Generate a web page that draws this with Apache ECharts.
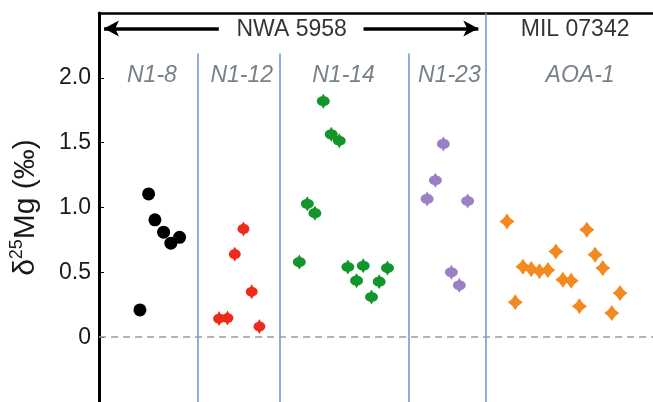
<!DOCTYPE html>
<html><head><meta charset="utf-8">
<script src="https://cdn.jsdelivr.net/npm/echarts@6/dist/echarts.min.js"></script>
<style>html,body{margin:0;padding:0;background:#fff}#c{width:653px;height:402px}</style>
</head><body><div id="c"></div>
<script>
// ---- data (x: position along the horizontal, y: δ25Mg ‰) ----
var n18 = [[49.7,1.105],[56,0.905],[64.7,0.81],[72,0.725],[80.7,0.77],[41,0.21]];
var n112 = [[144.7,0.835],[136,0.64],[153,0.35],[120.3,0.143],[128.7,0.148],[160.7,0.082]];
var n114 = [[224.7,1.82],[232.7,1.564],[240.7,1.515],[208.7,1.028],[216.3,0.956],[200.7,0.579],
            [249.3,0.541],[264.7,0.551],[289,0.533],[258,0.436],[280.7,0.428],[273,0.31]];
var n123 = [[345,1.49],[337,1.21],[328.7,1.066],[369.3,1.05],[353,0.50],[361,0.40]];
var aoa1 = [[408.7,0.892],[417,0.269],[424.7,0.543],[433,0.525],[441.3,0.508],[449.7,0.518],
            [457.7,0.661],[464.7,0.443],[473,0.435],[481.3,0.238],[488.7,0.828],[497,0.635],
            [504.7,0.533],[513.7,0.187],[522,0.341]];
var groupNames = ['N1-8','N1-12','N1-14','N1-23','AOA-1'];
var groupCenters = [53,143,245,351,482];
var groupLabelY = 2.014;
var dividers = [98.7,180.7,310.3];
var meteoriteDivider = 387;
var headerNames = ['NWA 5958','MIL 07342'];
var headerCenters = [193,477];
var headerY = 2.372;
var arrowLeft = [120,5];
var arrowRight = [265,380];
var yTicks = [0,0.5,1.0,1.5,2.0];

var chart = echarts.init(document.getElementById('c'));
var FONT = '"Liberation Sans", Arial, Helvetica, sans-serif';
var spike = 'path://M10,0 L12,4.254 A8,8 0 0,1 12,19.746 L10,24 L8,19.746 A8,8 0 0,1 8,4.254 Z';
var star = 'path://M10,0 Q13.5,6.5 20,10 Q13.5,13.5 10,20 Q6.5,13.5 0,10 Q6.5,6.5 10,0 Z';

var divLines = dividers.map(function(x){ return [{coord:[x,2.187]},{coord:[x,-0.5]}]; });
divLines.push([{coord:[meteoriteDivider,2.5]},{coord:[meteoriteDivider,-0.5]}]);

function pts(arr){ return arr.map(function(p){return {value:p};}); }

chart.setOption({
  animation:false,
  grid:{left:98,right:0,top:13,bottom:-2},
  xAxis:{type:'value',min:0,max:555,position:'top',
    axisLine:{show:true,onZero:false,lineStyle:{color:'#000',width:2.5}},
    axisTick:{show:false},axisLabel:{show:false},splitLine:{show:false}},
  yAxis:{type:'value',min:-0.5,max:2.5,interval:0.5,
    axisLine:{show:true,onZero:false,lineStyle:{color:'#000',width:3}},
    axisTick:{show:true,inside:true,length:5,lineStyle:{color:'#000',width:1}},
    splitLine:{show:false},
    axisLabel:{fontFamily:FONT,fontSize:23,color:'#1a1a1a',margin:8,
      formatter:function(v){ if(yTicks.indexOf(v)<0) return ''; return v===0?'0':v.toFixed(1);} },
    name:'{a|δ}{b|25}{a|Mg (‰)}',nameLocation:'middle',nameGap:55,
    nameTextStyle:{fontFamily:FONT,color:'#1a1a1a',
      rich:{a:{fontFamily:FONT,fontSize:30,lineHeight:36,color:'#1a1a1a'},
            b:{fontFamily:FONT,fontSize:18,lineHeight:22,verticalAlign:'top',color:'#1a1a1a'}}}},
  series:[
    {type:'scatter',name:'lines',data:[],silent:true,
     markLine:{silent:true,symbol:['none','none'],label:{show:false},
       lineStyle:{color:'#6a93d0',width:1.5,type:'solid',opacity:1},data:divLines}},
    {type:'scatter',name:'zero',data:[],silent:true,
     markLine:{silent:true,symbol:['none','none'],label:{show:false},
       lineStyle:{color:'#9a9a9a',width:1.5,type:[7,5],opacity:1},data:[{yAxis:0}]}},
    {type:'scatter',name:'arrows',data:[],silent:true,
     markLine:{silent:true,symbol:['none','arrow'],symbolSize:[12,15],label:{show:false},
       itemStyle:{color:'#000'},
       lineStyle:{color:'#000',width:3.5,type:'solid',opacity:1},
       data:[[{coord:[arrowLeft[0],2.38]},{coord:[arrowLeft[1],2.38]}],
             [{coord:[arrowRight[0],2.38]},{coord:[arrowRight[1],2.38]}]]}},
    {type:'scatter',name:'N1-8',data:pts(n18),symbol:'circle',symbolSize:13,itemStyle:{color:'#000',opacity:1}},
    {type:'scatter',name:'N1-12',data:pts(n112),symbol:spike,symbolSize:[12,15],itemStyle:{color:'#ee2a1a',opacity:1}},
    {type:'scatter',name:'N1-14',data:pts(n114),symbol:spike,symbolSize:[13,15],itemStyle:{color:'#12952b',opacity:1}},
    {type:'scatter',name:'N1-23',data:pts(n123),symbol:spike,symbolSize:[13,15],itemStyle:{color:'#9b80c8',opacity:1}},
    {type:'scatter',name:'AOA-1',data:pts(aoa1),symbol:star,symbolSize:[15,16],itemStyle:{color:'#f28a1f',opacity:1}},
    {type:'scatter',name:'groupLabels',silent:true,symbolSize:0,
     data:groupNames.map(function(n,i){return {name:n,value:[groupCenters[i],groupLabelY]};}),
     label:{show:true,position:'inside',formatter:'{b}',fontFamily:FONT,fontSize:23,fontStyle:'italic',color:'#56606a'}},
    {type:'scatter',name:'headers',silent:true,symbolSize:0,
     data:headerNames.map(function(n,i){return {name:n,value:[headerCenters[i],headerY]};}),
     label:{show:true,position:'inside',formatter:'{b}',fontFamily:FONT,fontSize:23,color:'#000'}}
  ]
});
</script></body></html>
